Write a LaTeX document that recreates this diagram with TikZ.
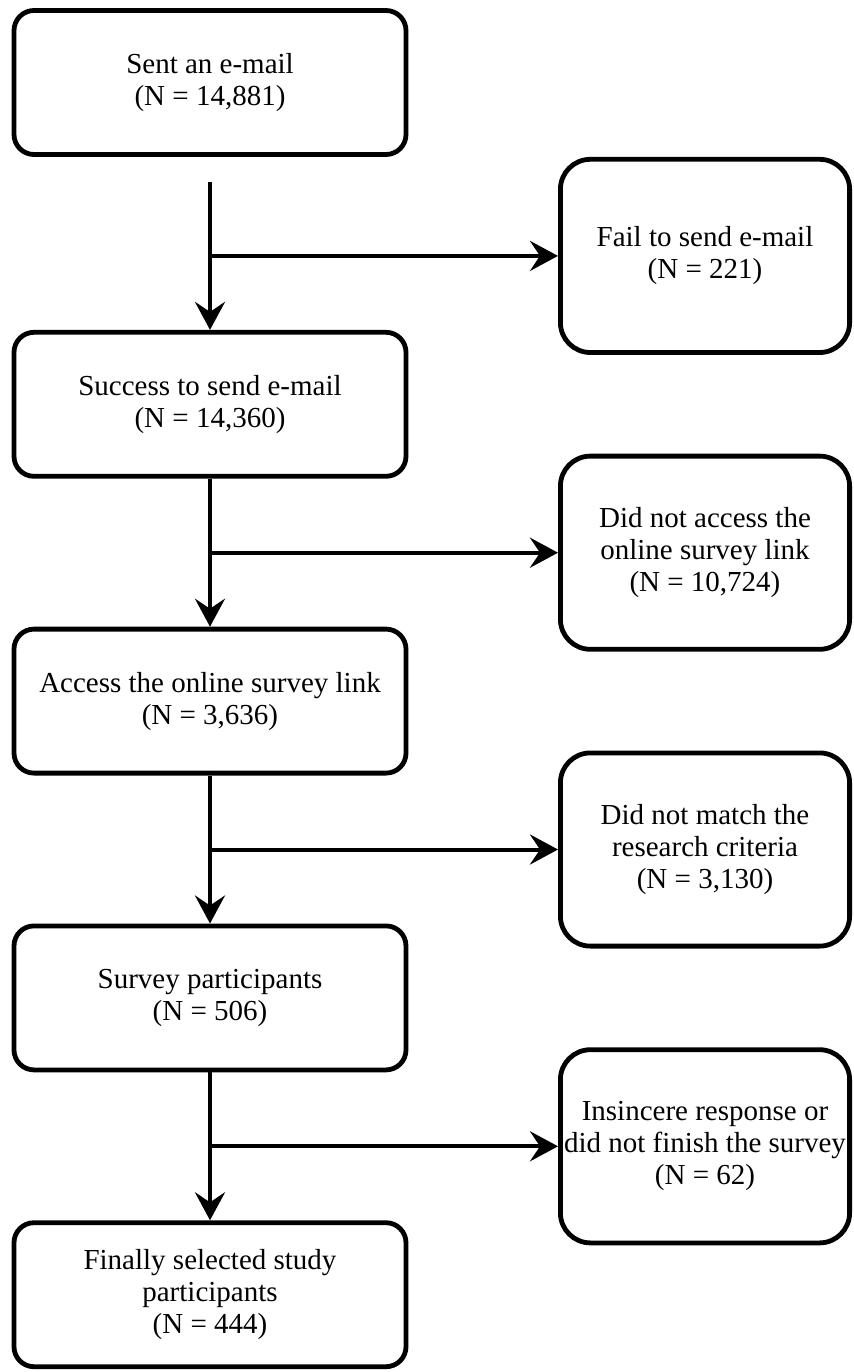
\documentclass[tikz,border=0pt]{standalone}
\usepackage{fontspec}
\setmainfont{Liberation Serif}
\usetikzlibrary{positioning,calc,arrows.meta}

\begin{document}
\begin{tikzpicture}[x=0.5pt, y=-0.5pt, line width=2pt,
    stagebox/.style={draw, rounded corners=10pt, line width=2.4pt, minimum width=196pt, minimum height=72pt, inner sep=0pt, align=center, font=\fontsize{14.5}{16}\selectfont},
    dropbox/.style={stagebox, rounded corners=15pt, minimum width=144.6pt, minimum height=96.6pt},
    flow/.style={-{Stealth[length=14pt, width=15pt, inset=5pt]}}]
    \useasboundingbox (0,0) rectangle (854,1372);

    % main column
    \node[stagebox] (sent) at (210,82.5) {Sent an e-mail\\(N = 14,881)};
    \node[stagebox, below=86.5pt of sent] (success) {Success to send e-mail\\(N = 14,360)};
    \node[stagebox, below=74pt of success] (access) {Access the online survey link\\(N = 3,636)};
    \node[stagebox, below=74pt of access] (survey) {Survey participants\\(N = 506)};
    \node[stagebox, below=74pt of survey] (final) {Finally selected study\\participants\\(N = 444)};

    % branch points
    \coordinate[below=12.5pt of sent.south] (start);
    \coordinate (b1) at ($(start)!0.5!(success.north)$);
    \coordinate (b2) at ($(success.south)!0.5!(access.north)$);
    \coordinate (b3) at ($(access.south)!0.5!(survey.north)$);
    \coordinate (b4) at ($(survey.south)!0.5!(final.north)$);

    % excluded
    \node[dropbox, anchor=west, right=174pt of b1] (fail) {Fail to send e-mail\\(N = 221)};
    \node[dropbox, anchor=west, right=174pt of b2] (noaccess) {Did not access the\\online survey link\\(N = 10,724)};
    \node[dropbox, anchor=west, right=174pt of b3] (nomatch) {Did not match the\\research criteria\\(N = 3,130)};
    \node[dropbox, anchor=west, right=174pt of b4] (insincere) {Insincere response or\\did not finish the survey\\(N = 62)};

    \draw[flow] (start) -- (success.north);
    \draw[flow] (success.south) -- (access.north);
    \draw[flow] (access.south) -- (survey.north);
    \draw[flow] (survey.south) -- (final.north);

    \draw[flow] (b1) -- (fail.west);
    \draw[flow] (b2) -- (noaccess.west);
    \draw[flow] (b3) -- (nomatch.west);
    \draw[flow] (b4) -- (insincere.west);
\end{tikzpicture}
\end{document}
